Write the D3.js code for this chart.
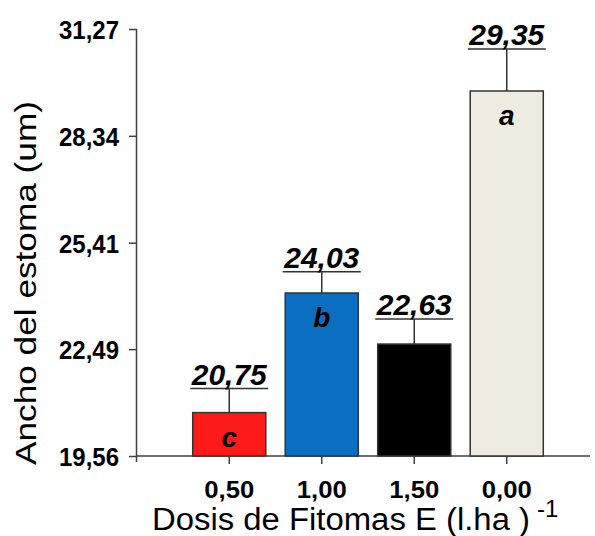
<!DOCTYPE html>
<html>
<head>
<meta charset="utf-8">
<script src="https://cdn.jsdelivr.net/npm/d3@7"></script>
<style>
  body { margin: 0; background: #fff; }
  text { font-family: "Liberation Sans", Arial, sans-serif; }
</style>
</head>
<body>
<script>
const width = 595;
const height = 536;

// chart data
const doses = ["0,50", "1,00", "1,50", "0,00"];
const barValues = [20.75, 24.03, 22.63, 29.57];   // drawn bar heights
const meanLabels = ["20,75", "24,03", "22,63", "29,35"];
const errors = [0.66, 0.58, 0.69, 1.15];
const letters = ["c", "b", "", "a"];
const yTicks = [19.56, 22.49, 25.41, 28.34, 31.27];
const colors = ["#ff1a1a", "#0a6fc0", "#000000", "#eeece1"];

const commaFmt = d3.formatLocale({decimal: ",", thousands: ".", grouping: [3], currency: ["", ""]}).format(".2f");

const svg = d3.select("body").append("svg")
    .attr("width", width)
    .attr("height", height);

const y = d3.scaleLinear().domain([19.56, 31.27]).range([456, 29]);
const x = d3.scaleBand().domain(doses).range([183, 553])
    .paddingInner(0.21).paddingOuter(0.105);

const axisColor = "#404040";

// y axis
const yAxis = svg.append("g")
    .attr("transform", "translate(137,0)")
    .call(d3.axisLeft(y).tickValues(yTicks).tickFormat(commaFmt).tickSize(8).tickPadding(10));
yAxis.select(".domain").attr("d", "M-0.5,29V462").attr("stroke", axisColor).attr("stroke-width", 1.5);
yAxis.selectAll(".tick line").attr("stroke", axisColor).attr("stroke-width", 1.5);
yAxis.selectAll(".tick text")
    .attr("font-size", "26.5px")
    .attr("font-weight", "bold")
    .attr("fill", "#000")
    .attr("textLength", 60)
    .attr("lengthAdjust", "spacingAndGlyphs")
    .attr("dy", "0.36em");

// x axis
const xAxis = svg.append("g")
    .attr("transform", "translate(0,456)")
    .call(d3.axisBottom(x).tickSize(8).tickPadding(12));
xAxis.select(".domain").attr("d", "M137,0H590").attr("stroke", axisColor).attr("stroke-width", 1.5);
xAxis.selectAll(".tick line").attr("stroke", axisColor).attr("stroke-width", 1.5);
xAxis.selectAll(".tick text")
    .attr("font-size", "24px")
    .attr("font-weight", "bold")
    .attr("fill", "#000")
    .attr("textLength", 50)
    .attr("lengthAdjust", "spacingAndGlyphs")
    .attr("dy", "0.9em");

// bars
svg.selectAll(".bar")
    .data(doses)
    .enter().append("rect")
    .attr("class", "bar")
    .attr("x", d => x(d))
    .attr("y", (d, i) => y(barValues[i]))
    .attr("width", x.bandwidth())
    .attr("height", (d, i) => y(19.56) - y(barValues[i]))
    .attr("fill", (d, i) => colors[i])
    .attr("stroke", "#333")
    .attr("stroke-width", 1.5);

// error bars + mean labels
doses.forEach((d, i) => {
    const cx = x(d) + x.bandwidth() / 2;
    const yTop = y(barValues[i] + errors[i]);

    svg.append("line")
        .attr("x1", cx).attr("x2", cx)
        .attr("y1", y(barValues[i])).attr("y2", yTop)
        .attr("stroke", "#333").attr("stroke-width", 1.5);

    svg.append("line")
        .attr("x1", cx - 39).attr("x2", cx + 39)
        .attr("y1", yTop).attr("y2", yTop)
        .attr("stroke", "#333").attr("stroke-width", 1.5);

    svg.append("text")
        .attr("x", cx)
        .attr("y", yTop - 4)
        .attr("text-anchor", "middle")
        .attr("font-size", "30px")
        .attr("font-weight", "bold")
        .attr("font-style", "italic")
        .text(meanLabels[i]);

    if (letters[i]) {
        svg.append("text")
            .attr("x", cx)
            .attr("y", y(barValues[i]) + 34)
            .attr("text-anchor", "middle")
            .attr("font-size", "28px")
            .attr("font-weight", "bold")
            .attr("font-style", "italic")
            .text(letters[i]);
    }
});

// axis titles
svg.append("text")
    .attr("transform", "translate(36,283) rotate(-90)")
    .attr("text-anchor", "middle")
    .attr("font-size", "29px")
    .attr("textLength", 364)
    .attr("lengthAdjust", "spacingAndGlyphs")
    .text("Ancho  del estoma (um)");

svg.append("text")
    .attr("x", 152)
    .attr("y", 530)
    .attr("font-size", "31px")
    .attr("textLength", 378)
    .attr("lengthAdjust", "spacingAndGlyphs")
    .text("Dosis de Fitomas E (l.ha )");

svg.append("text")
    .attr("x", 537)
    .attr("y", 517)
    .attr("font-size", "24px")
    .text("-1");
</script>
</body>
</html>
